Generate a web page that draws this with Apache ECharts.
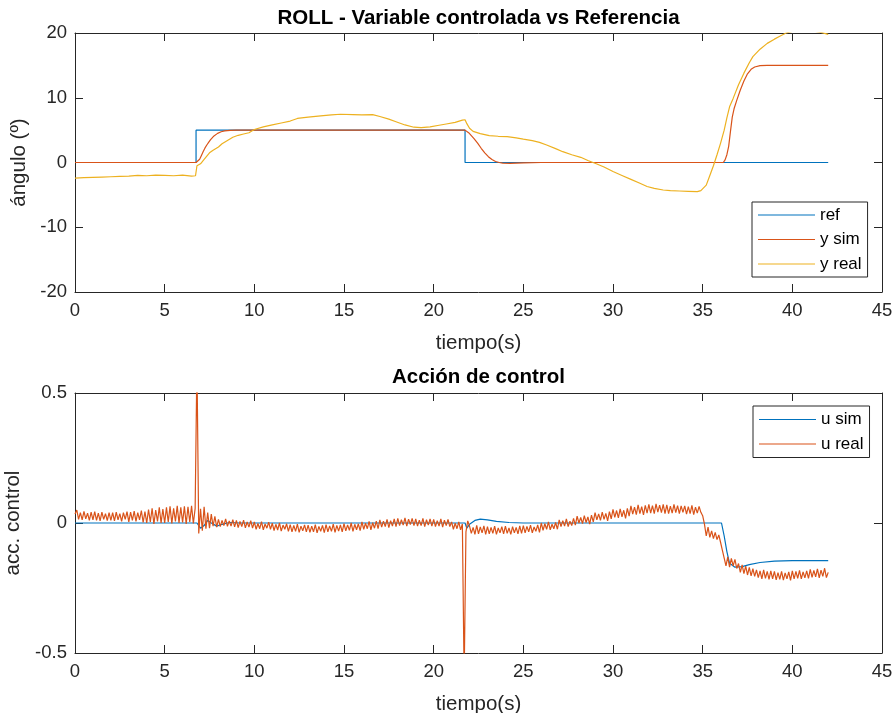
<!DOCTYPE html>
<html>
<head>
<meta charset="utf-8">
<script src="https://cdn.jsdelivr.net/npm/echarts@6/dist/echarts.min.js"></script>
<style>
html,body{margin:0;padding:0;background:#fff;}
#chart{width:896px;height:713px;}
</style>
</head>
<body>
<div id="chart"></div>
<script>
// ---------- data ----------
const xTicks = [0, 5, 10, 15, 20, 25, 30, 35, 40, 45];
const topYTicks = [-20, -10, 0, 10, 20];
const botYTicks = [-0.5, 0, 0.5];

const refData = [[0,0],[6.75,0],[6.75,5],[21.75,5],[21.75,0],[42,0]];

const ySimData = [[0,0],[6.75,0],[6.85,0.15],[6.95,0.5],[7.05,1.1],[7.15,1.7],[7.25,2.25],[7.35,2.7],
  [7.45,3.1],[7.55,3.5],[7.75,4.1],[7.95,4.5],[8.15,4.75],[8.35,4.88],[8.65,4.97],[9.0,5.0],
  [21.75,5],[21.85,4.85],[21.95,4.6],[22.05,4.3],[22.25,3.7],[22.45,3.0],[22.65,2.2],[22.85,1.5],
  [23.05,0.9],[23.25,0.45],[23.45,0.15],[23.65,0.0],[23.85,-0.1],[24.25,-0.12],[25,-0.05],[26,0],
  [36.15,0],[36.25,0.4],[36.35,1.2],[36.45,2.5],[36.55,4.8],[36.65,7.0],[36.75,8.3],[36.9,9.6],
  [37.1,11.2],[37.3,12.6],[37.5,13.7],[37.7,14.4],[37.9,14.75],[38.2,14.95],[38.6,15.0],[42,15.0]];

const yRealData = [[0,-2.4],[0.5,-2.35],[1,-2.3],[1.5,-2.25],[2,-2.2],[2.5,-2.15],[3,-2.1],[3.5,-2.0],
  [4,-2.05],[4.5,-1.95],[5,-2.0],[5.5,-2.05],[6,-1.95],[6.5,-2.1],[6.72,-2.05],[6.8,-0.5],[7.0,-0.2],
  [7.2,0.5],[7.5,1.5],[7.7,1.9],[8.0,2.4],[8.2,2.9],[8.5,3.4],[8.8,3.9],[9.1,4.2],[9.4,4.4],[9.7,4.6],
  [10.0,5.1],[10.5,5.5],[11.0,5.8],[11.5,6.1],[12.0,6.4],[12.4,6.8],[13.0,7.0],[13.7,7.2],[14.3,7.35],
  [14.8,7.45],[15.5,7.4],[16.0,7.35],[16.6,7.4],[17.0,7.1],[17.5,6.7],[17.9,6.3],[18.4,5.8],[18.9,5.45],
  [19.3,5.4],[19.8,5.5],[20.3,5.75],[20.7,5.95],[21.2,6.2],[21.6,6.55],[21.75,6.6],[21.85,6.0],
  [22.0,5.3],[22.2,4.8],[22.6,4.45],[23.1,4.15],[23.6,4.05],[24.1,4.0],[24.6,3.8],[25.0,3.6],[25.5,3.37],
  [25.9,3.1],[26.3,2.7],[26.8,2.15],[27.2,1.67],[27.7,1.2],[28.2,0.8],[28.6,0.3],[29.1,-0.23],[29.5,-0.7],
  [30.0,-1.4],[30.5,-2.0],[31.0,-2.6],[31.5,-3.2],[31.9,-3.7],[32.3,-4.0],[32.8,-4.25],[33.2,-4.35],
  [33.7,-4.4],[34.2,-4.45],[34.7,-4.5],[34.9,-4.35],[35.0,-4.2],[35.2,-3.5],[35.4,-2.0],[35.6,-0.5],
  [35.8,1.2],[36.0,3.0],[36.2,5.0],[36.35,6.9],[36.5,8.6],[36.7,9.9],[37.0,12.0],[37.3,13.8],[37.6,15.4],
  [37.8,16.35],[38.2,17.5],[38.6,18.4],[39.0,19.05],[39.3,19.5],[39.65,20.0],[40.0,20.25],[41.0,20.4],
  [41.65,20.05],[42.0,19.8]];

const uSimData = [[0,0],[6.8,0],[7.0,-0.02],[7.2,-0.01],[7.4,0.01],[7.6,0.0],[7.9,-0.012],[8.2,-0.005],
  [8.6,0.002],[9.2,0.0],[21.75,0],[21.85,-0.02],[22.0,-0.005],[22.3,0.01],[22.6,0.015],[23.0,0.012],
  [23.5,0.006],[24.2,0.002],[25,0],[36.05,0],[36.2,-0.05],[36.35,-0.11],[36.5,-0.155],[36.8,-0.17],
  [37.2,-0.168],[37.6,-0.16],[38.2,-0.152],[39.0,-0.147],[40,-0.145],[42,-0.145]];

// u real sampled every 0.1 s from t = 0 to t = 42
const uRealStep = 0.1;
const uReal = [
  0.035,0.05,0.014,0.04,0.012,0.045,0.016,0.038,0.01,0.042,
  0.012,0.044,0.01,0.038,0.008,0.042,0.014,0.036,0.009,0.04,
  0.01,0.04,0.008,0.042,0.012,0.036,0.006,0.04,0.014,0.044,
  0.004,0.042,0.01,0.046,0.006,0.04,0.012,0.048,0.002,0.044,
  0.0,0.052,0.004,0.056,-0.004,0.05,0.006,0.06,0.0,0.054,
  0.0,0.06,0.004,0.064,-0.002,0.056,0.006,0.066,0.0,0.06,
  0.002,0.064,-0.004,0.062,0.004,0.066,-0.002,0.056,0.62,-0.04,
  0.055,-0.03,0.062,-0.022,0.04,-0.02,0.034,-0.012,0.026,-0.016,
  0.014,-0.014,0.01,-0.01,0.016,-0.013,0.008,-0.012,0.013,-0.015,
  0.01,-0.018,0.006,-0.014,0.011,-0.019,0.004,-0.016,0.009,-0.02,
  0.004,-0.024,-0.002,-0.022,0.005,-0.026,-0.004,-0.02,0.003,-0.024,
  -0.001,-0.029,-0.005,-0.027,0.0,-0.031,-0.008,-0.024,-0.003,-0.032,
  -0.006,-0.034,-0.009,-0.032,-0.004,-0.036,-0.012,-0.03,-0.007,-0.034,
  -0.008,-0.036,-0.012,-0.034,-0.006,-0.038,-0.013,-0.032,-0.009,-0.037,
  -0.006,-0.034,-0.011,-0.032,-0.004,-0.036,-0.009,-0.031,-0.007,-0.034,
  -0.002,-0.03,-0.007,-0.028,0.0,-0.032,-0.005,-0.026,-0.003,-0.029,
  0.004,-0.024,-0.001,-0.022,0.006,-0.026,0.001,-0.02,0.007,-0.022,
  0.012,-0.016,0.007,-0.014,0.014,-0.018,0.009,-0.012,0.016,-0.014,
  0.018,-0.01,0.013,-0.008,0.02,-0.012,0.015,-0.006,0.018,-0.01,
  0.016,-0.012,0.011,-0.01,0.018,-0.014,0.013,-0.008,0.016,-0.012,
  0.014,-0.014,0.009,-0.012,0.016,-0.016,0.011,-0.01,0.014,-0.014,
  0.004,-0.024,-0.001,-0.022,0.004,-0.026,-0.004,-0.6,-0.034,0.008,
  -0.012,-0.04,-0.017,-0.044,-0.009,-0.042,-0.015,-0.038,-0.011,-0.044,
  -0.014,-0.042,-0.017,-0.04,-0.012,-0.044,-0.019,-0.038,-0.014,-0.042,
  -0.012,-0.04,-0.019,-0.044,-0.014,-0.038,-0.017,-0.042,-0.011,-0.04,
  -0.01,-0.038,-0.013,-0.034,-0.008,-0.038,-0.015,-0.032,-0.007,-0.036,
  0.0,-0.028,-0.003,-0.024,0.004,-0.026,-0.005,-0.022,0.002,-0.024,
  0.012,-0.014,0.009,-0.012,0.016,-0.014,0.007,-0.01,0.018,-0.008,
  0.026,0.0,0.021,-0.002,0.028,0.002,0.023,-0.004,0.03,0.004,
  0.04,0.012,0.035,0.01,0.042,0.014,0.037,0.008,0.044,0.016,
  0.052,0.022,0.048,0.02,0.054,0.024,0.049,0.018,0.056,0.026,
  0.066,0.034,0.061,0.032,0.07,0.036,0.063,0.031,0.068,0.038,
  0.072,0.038,0.067,0.036,0.074,0.042,0.069,0.04,0.072,0.036,
  0.07,0.036,0.065,0.038,0.072,0.04,0.067,0.036,0.066,0.041,
  0.066,0.034,0.063,0.036,0.068,0.032,0.061,0.038,0.064,0.041,
  0.028,-0.004,-0.05,-0.016,-0.055,-0.03,-0.06,-0.036,-0.064,-0.046,
  -0.075,-0.105,-0.135,-0.165,-0.13,-0.17,-0.136,-0.165,-0.14,-0.175,
  -0.156,-0.19,-0.161,-0.195,-0.166,-0.2,-0.171,-0.203,-0.176,-0.205,
  -0.18,-0.21,-0.184,-0.215,-0.18,-0.213,-0.186,-0.217,-0.184,-0.215,
  -0.186,-0.219,-0.191,-0.217,-0.186,-0.22,-0.192,-0.215,-0.188,-0.221,
  -0.184,-0.215,-0.186,-0.213,-0.182,-0.215,-0.188,-0.211,-0.184,-0.213,
  -0.178,-0.209,-0.182,-0.207,-0.176,-0.211,-0.181,-0.205,-0.174,-0.21,
  -0.19
];
const uRealData = uReal.map((v, i) => [Math.round(i * uRealStep * 10) / 10, v]);

// ---------- chart ----------
const AX = '#262626';
const FONT = '"Liberation Sans", Arial, Helvetica, sans-serif';
const C_BLUE = '#0072BD', C_RED = '#D95319', C_YEL = '#EDB120';
const TICK_FS = 18.5, LABEL_FS = 20.5;

const G = [
  {left: 75, top: 33, width: 807, height: 259, outerBoundsMode: 'none', containLabel: false},
  {left: 75, top: 393, width: 807, height: 260, outerBoundsMode: 'none', containLabel: false}
];

function xAx(grid, top) {
  return {
    type: 'value', gridIndex: grid, min: 0, max: 45, interval: 5,
    position: top ? 'top' : 'bottom',
    axisLine: {show: true, onZero: false, lineStyle: {color: AX, width: 1}},
    axisTick: {show: true, inside: true, length: 8, lineStyle: {color: AX}},
    axisLabel: {show: !top, color: AX, fontSize: TICK_FS, fontFamily: FONT, margin: 9},
    splitLine: {show: false},
    name: top ? '' : 'tiempo(s)', nameLocation: 'middle', nameGap: 41,
    nameTextStyle: {color: AX, fontSize: LABEL_FS, fontFamily: FONT}
  };
}
function yAx(grid, right, min, max, interval, name) {
  return {
    type: 'value', gridIndex: grid, min: min, max: max, interval: interval,
    position: right ? 'right' : 'left',
    axisLine: {show: true, onZero: false, lineStyle: {color: AX, width: 1}},
    axisTick: {show: true, inside: true, length: 8, lineStyle: {color: AX}},
    axisLabel: {show: !right, color: AX, fontSize: TICK_FS, fontFamily: FONT, margin: 8},
    splitLine: {show: false},
    name: right ? '' : name, nameLocation: 'middle', nameGap: 36, nameRotate: 90,
    nameTextStyle: {color: AX, fontSize: LABEL_FS, fontFamily: FONT}
  };
}

const lineS = (name, data, color, xi, yi) => ({
  name, type: 'line', data, xAxisIndex: xi, yAxisIndex: yi,
  symbol: 'none', showSymbol: false, animation: false, clip: true,
  lineStyle: {color, width: 1.2}, itemStyle: {color}
});

// thin horizontal line icon, 57 x 20 box
const LINE_ICON = 'path://M0,0 L0,0 M0,9.4 L57,9.4 L57,10.6 L0,10.6 Z M57,20 L57,20';

const legendBase = {
  orient: 'vertical', icon: LINE_ICON, itemWidth: 57, itemHeight: 20, itemGap: 4.5,
  backgroundColor: '#fff', borderColor: AX, borderWidth: 1, borderRadius: 0,
  textStyle: {color: '#000', fontSize: 17, fontFamily: FONT}, selectedMode: false
};

const chart = echarts.init(document.getElementById('chart'), null, {renderer: 'canvas'});
chart.setOption({
  backgroundColor: '#fff',
  animation: false,
  grid: G,
  xAxis: [xAx(0, false), xAx(0, true), xAx(1, false), xAx(1, true)],
  yAxis: [yAx(0, false, -20, 20, 10, 'ángulo (º)'), yAx(0, true, -20, 20, 10, ''),
          yAx(1, false, -0.5, 0.5, 0.5, 'acc. control'), yAx(1, true, -0.5, 0.5, 0.5, '')],
  legend: [
    Object.assign({}, legendBase, {data: ['ref', 'y sim', 'y real'], left: 752, top: 202, padding: [3, 6, 3, 6]}),
    Object.assign({}, legendBase, {data: ['u sim', 'u real'], left: 753, top: 406, padding: [3.5, 6, 3.5, 6]})
  ],
  graphic: [
    {type: 'text', x: 478.5, y: 18, style: {text: 'ROLL - Variable controlada vs Referencia', align: 'center', verticalAlign: 'middle', font: 'bold 20.5px ' + FONT, fill: '#000'}},
    {type: 'text', x: 478.5, y: 377, style: {text: 'Acción de control', align: 'center', verticalAlign: 'middle', font: 'bold 20.5px ' + FONT, fill: '#000'}}
  ],
  series: [
    lineS('ref', refData, C_BLUE, 0, 0),
    lineS('y sim', ySimData, C_RED, 0, 0),
    lineS('y real', yRealData, C_YEL, 0, 0),
    lineS('u sim', uSimData, C_BLUE, 2, 2),
    lineS('u real', uRealData, C_RED, 2, 2)
  ]
});
</script>
</body>
</html>
